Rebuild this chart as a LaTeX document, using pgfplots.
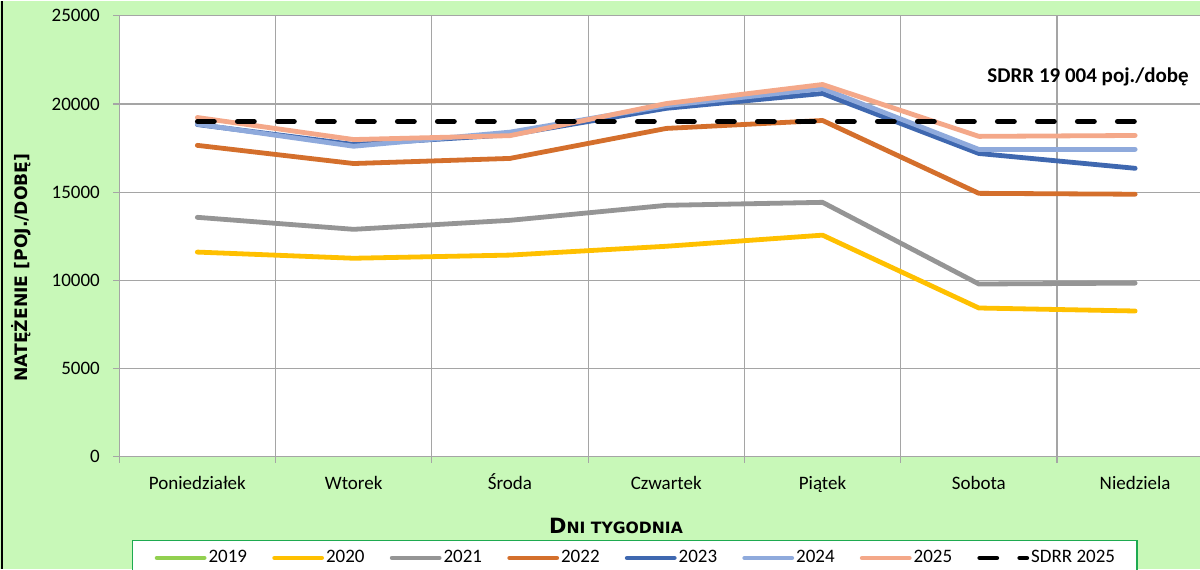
\documentclass[border=0pt]{standalone}
\usepackage{fontspec}
\setmainfont{Carlito}
\newfontfamily\dejav{DejaVu Sans}
\usepackage{pgfplots}
\usepackage{pgfplotstable}
\pgfplotsset{compat=1.18}
\definecolor{bggreen}{RGB}{200,248,184}
\definecolor{leggreen}{RGB}{30,170,80}
\definecolor{gridgray}{RGB}{165,165,165}
\definecolor{c2019}{HTML}{92D050}
\definecolor{c2020}{HTML}{FFC000}
\definecolor{c2021}{HTML}{959595}
\definecolor{c2022}{HTML}{D46F2C}
\definecolor{c2023}{HTML}{3F68B0}
\definecolor{c2024}{HTML}{8FAADC}
\definecolor{c2025}{HTML}{F4A889}

\pgfplotstableread{
x y2020 y2021 y2022 y2023 y2024 y2025 sdrr
0 11600 13570 17650 18830 18850 19230 19004
1 11250 12890 16620 17700 17600 17980 19004
2 11430 13400 16910 18250 18400 18200 19004
3 11930 14250 18610 19750 19900 20020 19004
4 12560 14420 19060 20590 20870 21100 19004
5 8430 9790 14930 17190 17420 18160 19004
6 8260 9840 14880 16350 17420 18210 19004
}\data

\begin{document}
\begin{tikzpicture}
\fill[bggreen] (0pt,0pt) rectangle (600pt,284pt);
\draw[black, line width=0.7pt] (1pt,0pt) -- (1pt,284pt);
\begin{scope}[overlay]
\begin{axis}[
  at={(59.6pt,56pt)}, anchor=south west,
  scale only axis, width=540.4pt, height=220.5pt,
  xmin=-0.5, xmax=6.415, ymin=0, ymax=25000,
  axis x line=bottom, axis y line=left,
  axis line style={-, draw=gridgray, line width=0.6pt},
  axis background/.style={fill=white},
  tick align=outside,
  major tick length=3pt,
  tick style={draw=gridgray, line width=0.6pt},
  ytick={0,5000,...,25000},
  ymajorgrids,
  grid style={draw=gridgray, line width=0.6pt},
  xtick={-0.5,0.5,1.5,2.5,3.5,4.5,5.5},
  xticklabels={},
  xmajorgrids,
  extra x ticks={0,1,2,3,4,5,6},
  extra x tick labels={Poniedziałek,Wtorek,Środa,Czwartek,Piątek,Sobota,Niedziela},
  extra x tick style={grid=none, major tick length=0pt, tick style={draw=none}},
  ticklabel style={font=\fontsize{9.5}{11}\selectfont, text=black},
  scaled y ticks=false,
  yticklabel style={/pgf/number format/.cd, 1000 sep={}, assume math mode=true, /tikz/.cd, anchor=east, inner sep=0pt, xshift=-6.5pt},
  xticklabel style={anchor=north, inner sep=0pt, text height=7pt, text depth=2pt, yshift=-9pt},
  xlabel={{\fontsize{10.5}{12}\selectfont D}{\fontsize{7.8}{9}\selectfont NI TYGODNIA}},
  xlabel style={font=\dejav\bfseries, at={(axis description cs:0.4597,-0.1746)}, anchor=base, inner sep=0pt},
  ylabel={NATĘŻENIE [POJ./DOBĘ]},
  ylabel style={font=\dejav\bfseries\fontsize{8.6}{9}\selectfont, at={(axis description cs:-0.0909,0.4286)}, anchor=center, inner sep=0pt},
  every axis plot/.append style={line width=2.4pt, line cap=round, line join=round},
  legend columns=8,
  legend image code/.code={\draw (0pt,0pt) -- (23.5pt,0pt);},
  legend style={at={(axis description cs:0.01184,-0.1882)}, anchor=north west,
    draw=leggreen, line width=0.75pt, fill=white,
    font=\fontsize{9.5}{11}\selectfont,
    inner xsep=11pt, inner ysep=4.9pt,
    nodes={inner sep=0pt},
    /tikz/every odd column/.append style={column sep=1pt},
    /tikz/every even column/.append style={column sep=12.6pt},
    /tikz/column 16/.append style={column sep=0pt}},
]
\addlegendimage{c2019, line width=2.4pt, line cap=round}
\addlegendentry{2019}
\addplot[c2020] table[x=x,y=y2020]{\data};
\addlegendentry{2020}
\addplot[c2021] table[x=x,y=y2021]{\data};
\addlegendentry{2021}
\addplot[c2022] table[x=x,y=y2022]{\data};
\addlegendentry{2022}
\addplot[c2023] table[x=x,y=y2023]{\data};
\addlegendentry{2023}
\addplot[c2024] table[x=x,y=y2024]{\data};
\addlegendentry{2024}
\addplot[c2025] table[x=x,y=y2025]{\data};
\addlegendentry{2025}
\addplot[black, dash pattern=on 8.5pt off 11.5pt] table[x=x,y=sdrr]{\data};
\addlegendentry{SDRR 2025}
\node[anchor=base east, font=\bfseries\fontsize{10.5}{12}\selectfont, inner sep=0pt] at (axis cs:6.345,21200) {SDRR 19 004 poj./dobę};
\end{axis}
\end{scope}
\end{tikzpicture}
\end{document}
